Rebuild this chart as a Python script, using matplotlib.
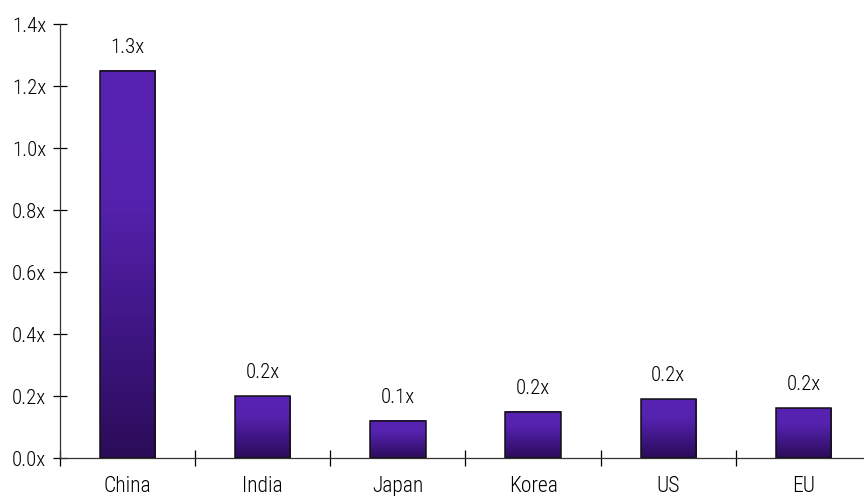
import matplotlib
matplotlib.use("Agg")
import matplotlib.pyplot as plt
import numpy as np
from matplotlib.colors import LinearSegmentedColormap

categories = ["China", "India", "Japan", "Korea", "US", "EU"]
values = [1.25, 0.20, 0.12, 0.15, 0.19, 0.16]
labels = ["1.3x", "0.2x", "0.1x", "0.2x", "0.2x", "0.2x"]
yticks = [0.0, 0.2, 0.4, 0.6, 0.8, 1.0, 1.2, 1.4]

plt.rcParams["font.family"] = ["Roboto Condensed", "Liberation Sans Narrow", "Roboto", "DejaVu Sans"]
plt.rcParams["font.weight"] = "light"

fig = plt.figure(figsize=(8.64, 4.96), dpi=100)
ax = fig.add_axes([60 / 864, 38 / 496, 811 / 864, 434 / 496])

grad = LinearSegmentedColormap.from_list("grad", ["#2b0c58", "#3f1684", "#5522ae", "#5823b3"])
x = np.arange(len(categories))
width = 0.41

bars = ax.bar(x, values, width, facecolor="none", edgecolor="#111111", linewidth=1.1, zorder=3)
for bar, val, lab in zip(bars, values, labels):
    x0 = bar.get_x()
    img = np.linspace(0, 1, 256).reshape(-1, 1)
    ax.imshow(img, extent=[x0, x0 + width, 0, val], origin="lower", aspect="auto",
              cmap=grad, zorder=2)
    ax.text(bar.get_x() + width / 2, val + 0.045, lab, ha="center", va="bottom", fontsize=15)

ax.set_xlim(-0.5, len(categories) - 0.5)
ax.set_ylim(0, 1.4)
ax.set_yticks(yticks)
ax.set_yticklabels([f"{v:.1f}x" for v in yticks], fontsize=15)
ax.set_xticks(x)
ax.set_xticklabels(categories, fontsize=15.5)
ax.set_xticks(np.arange(len(categories) + 1) - 0.5, minor=True)
ax.tick_params(axis="x", which="major", length=0, pad=13)
ax.tick_params(axis="x", which="minor", direction="inout", length=11, width=0.9)
ax.tick_params(axis="y", direction="inout", length=10, width=0.9, pad=5)

for s in ["top", "right"]:
    ax.spines[s].set_visible(False)
ax.spines["left"].set_linewidth(0.9)
ax.spines["bottom"].set_linewidth(0.9)
ax.spines["left"].set_color("#333333")
ax.spines["bottom"].set_color("#333333")

fig.savefig("out.png", dpi=100)
